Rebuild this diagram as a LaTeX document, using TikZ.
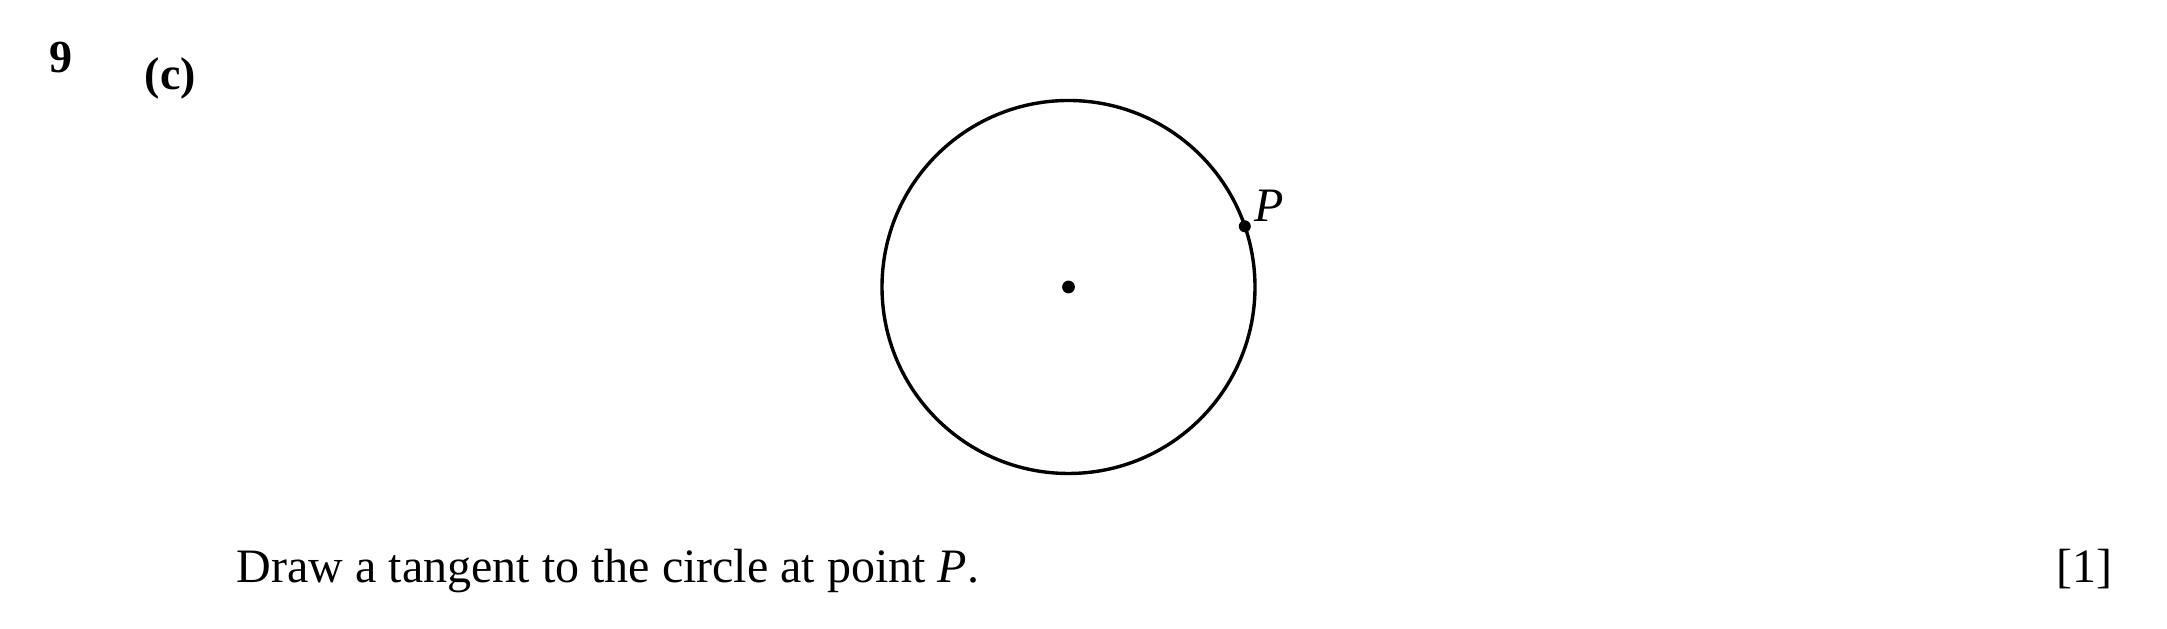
\documentclass[tikz,border=0pt]{standalone}
\usepackage{fontspec}
\setmainfont{Liberation Serif}
\usetikzlibrary{calc}
\begin{document}
\begin{tikzpicture}[x=0.25pt,y=-0.25pt,
  txt/.style={inner sep=0pt,font=\fontsize{12pt}{14pt}\selectfont},
  lbl/.style={inner sep=0pt,font=\fontsize{11.5pt}{14pt}\selectfont},
  dotpt/.style={fill=black,inner sep=0pt,minimum size=3.2pt,circle}]
\useasboundingbox (0,0) rectangle (2167,629);
\draw[line width=0.85pt] (1068.5,287) circle[radius=186.5*0.25pt];
\node[dotpt] (O) at (1068.5,287) {};
\node[dotpt,minimum size=3pt] (P) at (1244.8,226.3) {};
\node[txt,anchor=base west] (Plab) at (1254,222) {\textit{P}};
\node[lbl,anchor=base west] (q) at (49,73) {\textbf{9}};
\node[lbl,anchor=base west] (part) at (144,90) {\textbf{(c)}};
\node[txt,anchor=base west] (instr) at (236,583) {Draw a tangent to the circle at point \textit{P}.};
\node[txt,anchor=base east] (marks) at (2113,583) {[1]};
\end{tikzpicture}
\end{document}
